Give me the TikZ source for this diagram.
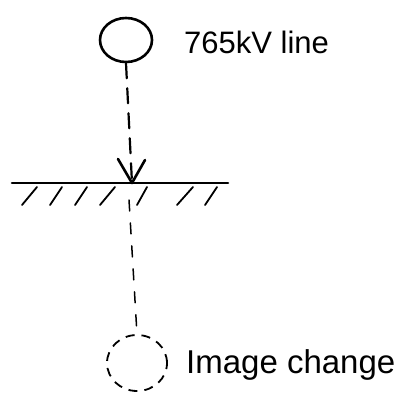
\documentclass[tikz,border=0pt]{standalone}
\usepackage{fontspec}
\setmainfont{Liberation Sans}
\usetikzlibrary{shapes.geometric}
\begin{document}
\begin{tikzpicture}[x=1pt,y=-1pt,
  ink/.style={line width=2.6pt,line cap=round,line join=round},
  dashink/.style={line width=2.2pt,line cap=round,dash pattern=on 15pt off 10pt},
  thindash/.style={line width=1.5pt,line cap=round,dash pattern=on 11pt off 12pt},
  hatch/.style={line width=1.8pt,line cap=round},
  lbl/.style={anchor=base west,inner sep=0pt}]
\useasboundingbox (0,0) rectangle (412,404);
% overhead conductor
\node[ink,draw,ellipse,minimum width=52pt,minimum height=44pt,inner sep=0pt] (line) at (126,40) {};
\node[lbl,font=\fontsize{31}{36}\selectfont] (linelbl) at (184,53) {765kV line};
% ground surface
\coordinate (gl) at (12,183);
\coordinate (gr) at (228,183);
\draw[ink] (gl) -- (gr);
\foreach \xa/\xb in {37/22,62/50,87/75,115/100,147/137,193/177,217/205}
  \draw[hatch] (\xa,187) -- (\xb,205);
% arrow from conductor to ground
\coordinate (tip) at (132,183);
\draw[dashink] (line.south) -- (tip);
\draw[ink] (118,159) -- (tip) -- (145,160);
% image conductor
\node[line width=1.8pt,draw,dash pattern=on 9pt off 7pt,ellipse,minimum width=60pt,minimum height=56pt,inner sep=0pt] (image) at (137,363) {};
\coordinate (below) at (129,200);
\draw[thindash] (below) -- (image.north);
\node[lbl,font=\fontsize{33}{38}\selectfont] (imglbl) at (186,373) {Image change};
\end{tikzpicture}
\end{document}
